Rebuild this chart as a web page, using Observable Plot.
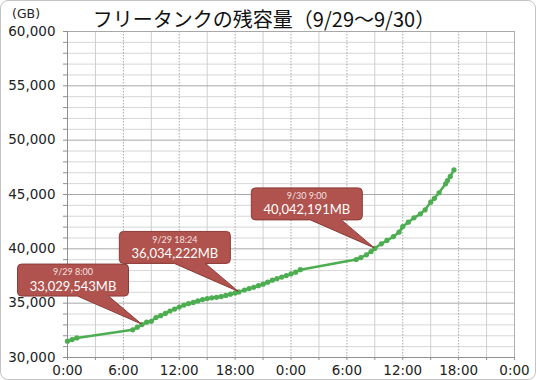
<!DOCTYPE html>
<html><head><meta charset="utf-8">
<script src="https://cdn.jsdelivr.net/npm/d3@7"></script>
<script src="https://cdn.jsdelivr.net/npm/@observablehq/plot@0.6"></script>
<style>
body{margin:0;background:#fff;}
#wrap{position:relative;width:536px;height:380px;overflow:hidden;background:#fff;font-family:"DejaVu Sans","Noto Sans CJK JP",sans-serif;}
#frame{position:absolute;left:0;top:0;width:536px;height:380px;box-sizing:border-box;border:1px solid #c4c4c4;border-radius:8px;pointer-events:none;}
#title{position:absolute;left:0;width:528px;top:7px;text-align:center;font-family:"Noto Sans CJK JP",sans-serif;font-size:20px;line-height:24px;color:#111;}
#unit{position:absolute;left:12px;top:6px;font-size:12.5px;line-height:15px;color:#222;}
#chart{position:absolute;left:0;top:0;}
</style></head>
<body>
<div id="wrap">
  <div id="chart"></div>
  <div id="title">フリータンクの残容量（9/29～9/30）</div>
  <div id="unit">(GB)</div>
  <div id="frame"></div>
</div>
<script>
// hours since 9/29 0:00
const hours = [0, 0.5, 1.0,
  7.0, 7.5, 8.0, 8.5, 9.0, 9.5, 10.0, 10.5, 11.0, 11.5, 12.0, 12.5, 13.0, 13.5, 14.0, 14.5, 15.0, 15.5,
  16.0, 16.5, 17.0, 17.5, 18.0, 18.4, 19.0, 19.5, 20.0, 20.5, 21.0, 21.5, 22.0, 22.5, 23.0, 23.5, 24.0, 24.5, 25.0,
  31.0, 31.5, 32.1, 32.6, 33.0, 33.7, 34.3, 35.0, 35.6, 36.0, 36.6, 37.2, 37.9, 38.4, 39.0, 39.4, 39.9,
  40.6, 40.8, 41.1, 41.5];
// remaining capacity (GB)
const values = [31500, 31650, 31800,
  32550, 32790, 33030, 33250, 33330, 33680, 33850, 34060, 34280, 34460, 34640, 34820, 34960, 35070, 35210, 35330, 35420, 35490,
  35540, 35610, 35710, 35830, 35940, 36034, 36210, 36340, 36460, 36610, 36750, 36930, 37120, 37260, 37400, 37540, 37690, 37850, 38080,
  39020, 39200, 39450, 39750, 40042, 40460, 40770, 41130, 41530, 42050, 42450, 42850, 43220, 43590, 44290, 44650, 45160,
  45980, 46290, 46660, 47270];

const xTickHours = [0, 6, 12, 18, 24, 30, 36, 42, 48];
const xTickLabels = ["0:00", "6:00", "12:00", "18:00", "0:00", "6:00", "12:00", "18:00", "0:00"];
const yTicks = [30000, 35000, 40000, 45000, 50000, 55000, 60000];

// callouts
const annoHours = [8, 18.4, 33];
const annoValues = [33030, 36034, 40042];
const annoDates = ["9/29 8:00", "9/29 18:24", "9/30 9:00"];
const annoLabels = ["33,029,543MB", "36,034,222MB", "40,042,191MB"];

const data = hours.map((h, i) => ({h, v: values[i]}));
const annos = annoHours.map((h, i) => ({h, v: annoValues[i], date: annoDates[i], label: annoLabels[i]}));

// layout of callout boxes relative to their tip (pixels)
const boxLeft = [-124, -119, -123], boxTop = -60, boxW = 111, boxH = 32, tailA = -64, tailB = -33;

const minorY = d3.range(30000, 60001, 1000).filter(v => v % 5000 !== 0);
const minorX = d3.range(3, 48, 6);
const majorX = d3.range(6, 48, 6);
const green = "#4cae50";

function callouts(index, scales) {
  const g = d3.create("svg:g");
  annos.forEach((a, i) => {
    const tx = scales.x(a.h), ty = scales.y(a.v);
    const L = tx + boxLeft[i], T = ty + boxTop, R = L + boxW, B = T + boxH, r = 4;
    const p = `M${L + r},${T}H${R - r}Q${R},${T} ${R},${T + r}V${B - r}Q${R},${B} ${R - r},${B}` +
      `H${tx + tailB}L${tx},${ty}L${tx + tailA},${B}H${L + r}Q${L},${B} ${L},${B - r}V${T + r}Q${L},${T} ${L + r},${T}Z`;
    g.append("path").attr("d", p).attr("fill", "#b0524d").attr("stroke", "#8c3b37").attr("stroke-width", 1);
    const cx = (L + R) / 2;
    g.append("text").attr("x", cx).attr("y", T + 8).attr("dy", "0.35em").attr("text-anchor", "middle")
      .attr("fill", "#f3e2e0").attr("font-size", 9).attr("font-family", "Lato, sans-serif").text(a.date);
    g.append("text").attr("x", cx).attr("y", T + 22).attr("dy", "0.35em").attr("text-anchor", "middle")
      .attr("fill", "#ffffff").attr("font-size", 13).attr("font-family", "Lato, sans-serif").text(a.label);
  });
  return g.node();
}

const plot = Plot.plot({
  width: 536, height: 380,
  marginLeft: 67, marginRight: 22, marginTop: 31, marginBottom: 23,
  style: {fontFamily: "'DejaVu Sans', sans-serif", fontSize: "13.5px", color: "#222", background: "transparent"},
  x: {domain: [0, 48]},
  y: {domain: [30000, 60000]},
  marks: [
    Plot.ruleY(minorY, {stroke: "#d6d6d6", strokeWidth: 1}),
    Plot.ruleX(minorX, {stroke: "#cfcfcf", strokeWidth: 1}),
    Plot.ruleX(majorX, {stroke: "#a8a8a8", strokeWidth: 1, strokeDasharray: "1.5,1.5"}),
    Plot.ruleY(yTicks.slice(1), {stroke: "#a8a8a8", strokeWidth: 1}),
    Plot.ruleX([48], {stroke: "#b0b0b0"}),
    Plot.ruleX([0], {stroke: "#909090"}),
    Plot.ruleY([30000], {stroke: "#909090"}),
    Plot.axisY(d3.range(30000, 60001, 1000), {tickSize: 4, tickPadding: 8, stroke: "#909090",
      tickFormat: v => v % 5000 === 0 ? d3.format(",")(v) : "", label: null}),
    Plot.axisX(d3.range(0, 49, 3), {tickSize: 3, tickPadding: 5, stroke: "#909090",
      tickFormat: h => h % 6 === 0 ? xTickLabels[xTickHours.indexOf(h)] : "", label: null}),
    Plot.line(data, {x: "h", y: "v", stroke: green, strokeWidth: 2.5}),
    Plot.dot(data, {x: "h", y: "v", r: 2.6, fill: green}),
    callouts
  ]
});
document.getElementById("chart").append(plot);
</script>
</body></html>
